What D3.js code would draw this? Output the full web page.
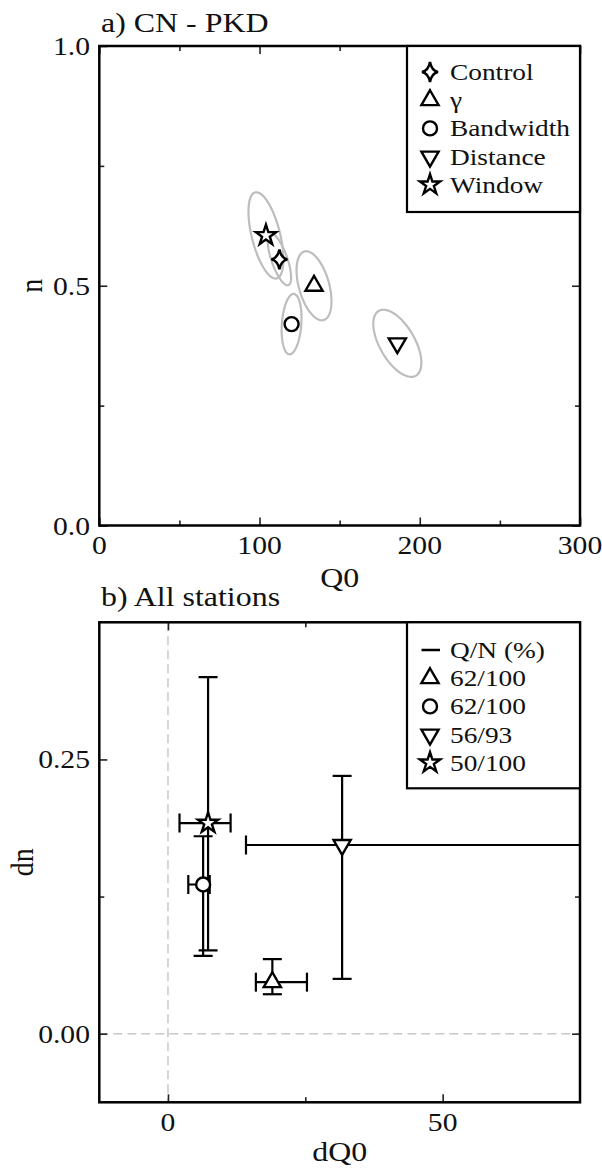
<!DOCTYPE html>
<html>
<head>
<meta charset="utf-8">
<script src="https://cdn.jsdelivr.net/npm/d3@7"></script>
<style>
  body { margin: 0; background: #fff; }
  text { font-family: 'Liberation Serif', 'Times New Roman', serif; fill: #111; }
</style>
</head>
<body>
<script>
// panel a) CN - PKD : best fit (Q0, n) and grey uncertainty ellipse
var aLabels = ['Control', 'γ', 'Bandwidth', 'Distance', 'Window'];
var aSymbols = ['control', 'up', 'circle', 'down', 'star'];
var aQ0 = [112.4, 134, 120, 186, 104];
var aN = [0.555, 0.50, 0.42, 0.38, 0.605];
var aSigQ = [7.3, 10.9, 6.2, 15.0, 10.9];        // Q0 half width of ellipse
var aSigN = [0.054, 0.072, 0.063, 0.070, 0.090]; // n half height of ellipse
var aRho = [-0.70, -0.45, 0.20, -0.58, -0.55];   // Q0-n correlation
var aXTicks = [0, 100, 200, 300];
var aXMinor = [50, 150, 250];
var aYTicks = [0, 0.5, 1.0];
var aYMinor = [0.25, 0.75];

// panel b) All stations : dQ0, dn with error bars
var bLegendHead = 'Q/N (%)';
var bLabels = ['62/100', '62/100', '56/93', '50/100'];
var bSymbols = ['up', 'circle', 'down', 'star'];
var bDQ = [19.0, 6.4, 31.7, 7.3];
var bDQlo = [16.0, 3.7, 14.2, 2.1];
var bDQhi = [25.3, 7.6, 80.0, 11.4];
var bDN = [0.047, 0.136, 0.172, 0.192];
var bDNlo = [0.036, 0.071, 0.050, 0.076];
var bDNhi = [0.068, 0.180, 0.235, 0.325];
var bXTicks = [0, 50];
var bXMinor = [25];
var bYTicks = [0, 0.25];
var bYMinor = [0.125];

var W = 602, H = 1168;
var SX = 1.14; // fonts in the figure are a bit wide
var svg = d3.select('body').append('svg')
    .attr('width', W).attr('height', H)
    .style('background', '#fff');

var left = 99.3, right = 580;
var xA = d3.scaleLinear().domain([0, 300]).range([left, right]);
var yA = d3.scaleLinear().domain([0, 1]).range([525.5, 46]);
var xB = d3.scaleLinear().domain([-12.5, 75]).range([left, right]);
var yB = d3.scaleLinear().domain([-0.0625, 0.375]).range([1102.3, 622.3]);

function label(x, y, s, size, anchor, rot) {
    var t = svg.append('text')
        .attr('font-size', size)
        .attr('text-anchor', anchor || 'start')
        .text(s);
    if (rot) {
        t.attr('transform', 'translate(' + x + ',' + y + ') rotate(-90) scale(1,' + SX + ')');
    } else {
        t.attr('transform', 'translate(' + x + ',' + y + ') scale(' + SX + ',1)');
    }
    return t;
}

// symbol paths
var symStar = d3.symbol().type(d3.symbolStar).size(128)();
var symTri = d3.symbol().type(d3.symbolTriangle).size(128)();
var symCircle = d3.symbol().type(d3.symbolCircle).size(154)();
var symControl = 'M0,-10Q1.5,-1.5,8,0Q1.5,1.5,0,10Q-1.5,1.5,-8,0Q-1.5,-1.5,0,-10Z';
function drawSymbol(g, type, x, y) {
    var p = g.append('path')
        .attr('fill', '#fff')
        .attr('stroke', '#000')
        .attr('stroke-width', 2.4)
        .attr('stroke-linejoin', 'miter');
    if (type === 'star') p.attr('d', symStar).attr('transform', 'translate(' + x + ',' + y + ')');
    else if (type === 'up') p.attr('d', symTri).attr('transform', 'translate(' + x + ',' + y + ')');
    else if (type === 'down') p.attr('d', symTri).attr('transform', 'translate(' + x + ',' + y + ') rotate(180)');
    else if (type === 'circle') p.attr('d', symCircle).attr('transform', 'translate(' + x + ',' + y + ')');
    else p.attr('d', symControl).attr('transform', 'translate(' + x + ',' + y + ')').attr('stroke-width', 2.5);
    return p;
}

function drawTicks(x, y, xMaj, xMin, yMaj, yMin) {
    var g = svg.append('g').attr('class', 'ticks');
    var x0 = x.range()[0], x1 = x.range()[1];
    var y0 = y.range()[0], y1 = y.range()[1];
    [[xMaj, 8], [xMin, 5]].forEach(function (s) {
        g.append('g').attr('transform', 'translate(0,' + y0 + ')')
            .call(d3.axisBottom(x).tickValues(s[0]).tickSize(-s[1]).tickFormat(''));
        g.append('g').attr('transform', 'translate(0,' + y1 + ')')
            .call(d3.axisTop(x).tickValues(s[0]).tickSize(-s[1]).tickFormat(''));
    });
    [[yMaj, 8], [yMin, 5]].forEach(function (s) {
        g.append('g').attr('transform', 'translate(' + x0 + ',0)')
            .call(d3.axisLeft(y).tickValues(s[0]).tickSize(-s[1]).tickFormat(''));
        g.append('g').attr('transform', 'translate(' + x1 + ',0)')
            .call(d3.axisRight(y).tickValues(s[0]).tickSize(-s[1]).tickFormat(''));
    });
    g.selectAll('.domain').remove();
    g.selectAll('.tick line').attr('stroke', '#222').attr('stroke-width', 1.6);
}

function frame(x, y) {
    svg.append('rect')
        .attr('x', x.range()[0]).attr('y', y.range()[1])
        .attr('width', x.range()[1] - x.range()[0])
        .attr('height', y.range()[0] - y.range()[1])
        .attr('fill', 'none').attr('stroke', '#000').attr('stroke-width', 2.5);
}

//---------------- panel a ----------------
label(101, 32, 'a) CN - PKD', 28);

var ellipseLine = d3.line().curve(d3.curveLinearClosed);
var gEll = svg.append('g').attr('class', 'ellipses');
aQ0.forEach(function (q, i) {
    var pts = d3.range(0, 2 * Math.PI, Math.PI / 60).map(function (t) {
        var qq = q + aSigQ[i] * Math.cos(t);
        var nn = aN[i] + aSigN[i] * (aRho[i] * Math.cos(t) + Math.sqrt(1 - aRho[i] * aRho[i]) * Math.sin(t));
        return [xA(qq), yA(nn)];
    });
    gEll.append('path')
        .attr('d', ellipseLine(pts))
        .attr('fill', 'none')
        .attr('stroke', '#bdbdbd')
        .attr('stroke-width', 2.2);
});
var gPtsA = svg.append('g').attr('class', 'pointsA');
aQ0.forEach(function (q, i) {
    drawSymbol(gPtsA, aSymbols[i], xA(q), yA(aN[i]));
});

drawTicks(xA, yA, aXTicks, aXMinor, aYTicks, aYMinor);
frame(xA, yA);

aXTicks.forEach(function (v) { label(xA(v), yA.range()[0] + 28, d3.format('d')(v), 26, 'middle'); });
aYTicks.forEach(function (v) { label(90, yA(v) + 9, d3.format('.1f')(v), 26, 'end'); });
label((left + right) / 2, 587, 'Q0', 28, 'middle');
label(42, (yA.range()[0] + yA.range()[1]) / 2, 'n', 28, 'middle', true);

// legend a
var legA = svg.append('g').attr('class', 'legendA');
legA.append('rect')
    .attr('x', 407).attr('y', 46).attr('width', right - 407).attr('height', 166)
    .attr('fill', '#fff').attr('stroke', '#000').attr('stroke-width', 2.2);
aLabels.forEach(function (s, i) {
    var yy = 72 + i * 28.2;
    drawSymbol(legA, aSymbols[i], 430, yy);
    label(450, yy + 8, s, 24);
});

//---------------- panel b ----------------
label(101, 606, 'b) All stations', 28);

svg.append('clipPath').attr('id', 'clipB').append('rect')
    .attr('x', left).attr('y', yB.range()[1])
    .attr('width', right - left).attr('height', yB.range()[0] - yB.range()[1]);

var gZero = svg.append('g').attr('class', 'zero')
    .attr('stroke', '#c8c8c8').attr('stroke-width', 1.5).attr('stroke-dasharray', '9,5');
gZero.append('line').attr('x1', xB(0)).attr('x2', xB(0)).attr('y1', yB.range()[1]).attr('y2', yB.range()[0]);
gZero.append('line').attr('x1', left).attr('x2', right).attr('y1', yB(0)).attr('y2', yB(0));

var gBars = svg.append('g').attr('clip-path', 'url(#clipB)')
    .attr('stroke', '#000').attr('stroke-width', 2.2).attr('fill', 'none');
var cap = 9.5;
bDQ.forEach(function (q, i) {
    var cx = xB(q), cy = yB(bDN[i]);
    // vertical
    gBars.append('line').attr('x1', cx).attr('x2', cx).attr('y1', yB(bDNlo[i])).attr('y2', yB(bDNhi[i]));
    gBars.append('line').attr('x1', cx - cap).attr('x2', cx + cap).attr('y1', yB(bDNlo[i])).attr('y2', yB(bDNlo[i]));
    gBars.append('line').attr('x1', cx - cap).attr('x2', cx + cap).attr('y1', yB(bDNhi[i])).attr('y2', yB(bDNhi[i]));
    // horizontal
    gBars.append('line').attr('x1', xB(bDQlo[i])).attr('x2', xB(bDQhi[i])).attr('y1', cy).attr('y2', cy);
    gBars.append('line').attr('x1', xB(bDQlo[i])).attr('x2', xB(bDQlo[i])).attr('y1', cy - cap).attr('y2', cy + cap);
    gBars.append('line').attr('x1', xB(bDQhi[i])).attr('x2', xB(bDQhi[i])).attr('y1', cy - cap).attr('y2', cy + cap);
});
var gPtsB = svg.append('g').attr('class', 'pointsB');
bDQ.forEach(function (q, i) {
    drawSymbol(gPtsB, bSymbols[i], xB(q), yB(bDN[i]));
});

drawTicks(xB, yB, bXTicks, bXMinor, bYTicks, bYMinor);
frame(xB, yB);

bXTicks.forEach(function (v) { label(xB(v), yB.range()[0] + 29, d3.format('d')(v), 26, 'middle'); });
bYTicks.forEach(function (v) { label(90, yB(v) + 9, d3.format('.2f')(v), 26, 'end'); });
label((left + right) / 2, 1161, 'dQ0', 28, 'middle');
label(33, (yB.range()[0] + yB.range()[1]) / 2, 'dn', 28, 'middle', true);

// legend b
var legB = svg.append('g').attr('class', 'legendB');
legB.append('rect')
    .attr('x', 407).attr('y', yB.range()[1]).attr('width', right - 407).attr('height', 166)
    .attr('fill', '#fff').attr('stroke', '#000').attr('stroke-width', 2.2);
legB.append('line').attr('x1', 421.5).attr('x2', 440).attr('y1', 650).attr('y2', 650)
    .attr('stroke', '#000').attr('stroke-width', 2.5);
label(450, 658, bLegendHead, 24);
bLabels.forEach(function (s, i) {
    var yy = 650 + (i + 1) * 28.2;
    drawSymbol(legB, bSymbols[i], 430, yy);
    label(450, yy + 8, s, 24);
});
</script>
</body>
</html>
